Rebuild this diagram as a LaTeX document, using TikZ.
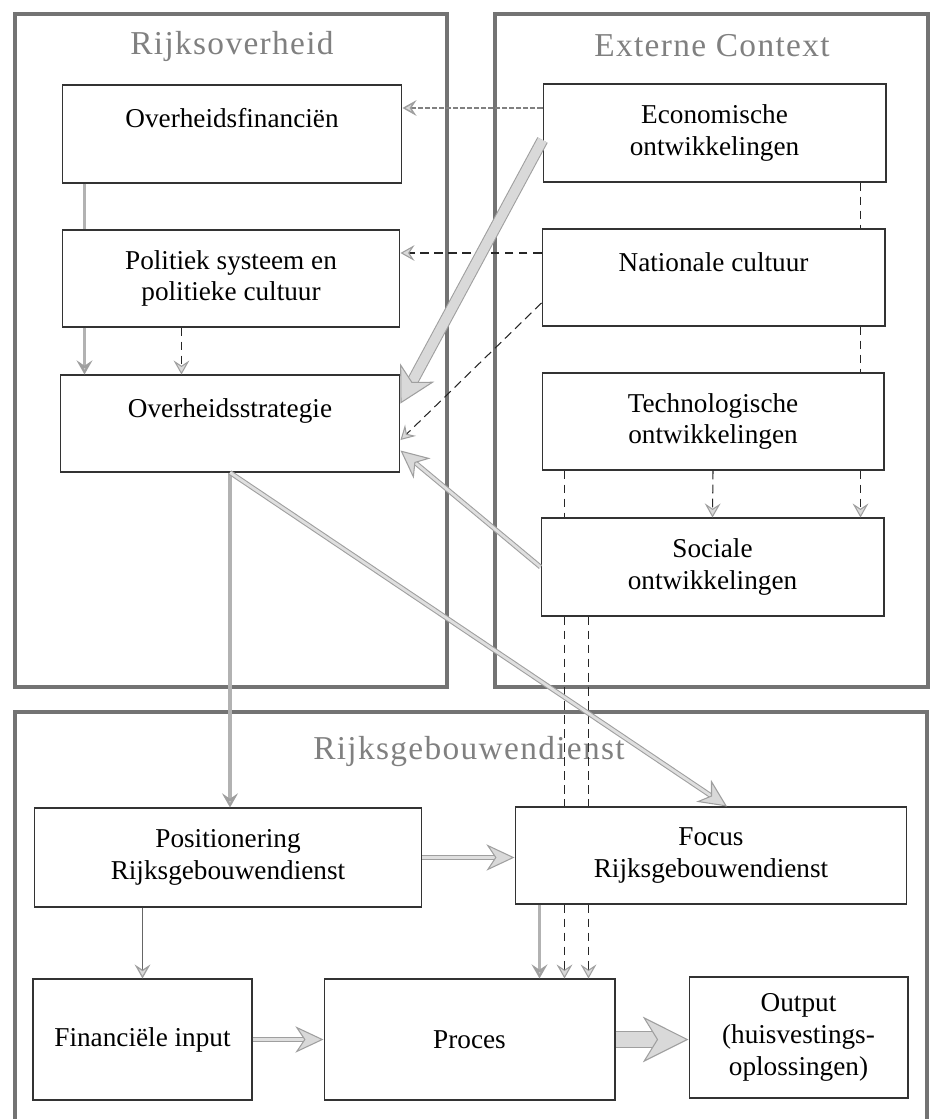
\documentclass[tikz,border=0pt]{standalone}
\usepackage{fontspec}
\setmainfont{Liberation Serif}
\usetikzlibrary{arrows.meta}

\begin{document}
\begin{tikzpicture}[x=0.02cm, y=-0.02cm]
    % Setup the styles for the frames, boxes and arrows
        \tikzset{frame style/.style={draw=black!55, line width=2.6pt},
                 title style/.style={text=black!50,
                                     font=\fontsize{19}{22}\selectfont\addfontfeature{LetterSpace=4}},
                 box style/.style={draw=black!80, line width=0.6pt, fill=white,
                                   align=center, font=\fontsize{15.5}{18}\selectfont},
                 thin arrow/.style={draw=black!60, line width=0.7pt,
                                    -{Stealth[length=8pt, width=9pt, inset=3pt, color=gray!75, fill=gray!30]}},
                 grey arrow/.style={thin arrow, draw=gray!60, line width=2pt},
                 grey line/.style={draw=gray!60, line width=2pt},
                 dashed link/.style={draw=black!85, line width=0.6pt, dash pattern=on 5pt off 3pt},
                 dashed arrow/.style={thin arrow, dashed link},
                 grey dashed arrow/.style={thin arrow, draw=black!50, line width=0.8pt, dash pattern=on 3pt off 1pt},
                 band arrow/.style={draw=gray!75, double=gray!25, double distance=1.6pt, line width=0.6pt,
                                    -{Stealth[length=16pt, width=15pt, inset=5pt, fill=gray!30]}},
                 wide arrow/.style={draw=gray!75, double=gray!30, double distance=5.5pt, line width=0.6pt,
                                    -{Stealth[length=20pt, width=22pt, inset=6pt, fill=gray!30]}},
                 wider arrow/.style={wide arrow, double distance=8.5pt,
                                     -{Stealth[length=26pt, width=26pt, inset=8pt, fill=gray!30]}}}
        \useasboundingbox (0,0) rectangle (933,1119);
        % Draw the frames and their titles
        \node[frame style, minimum width=8.64cm, minimum height=13.46cm] at (231,350.5) (ro) {};
        \node[frame style, minimum width=8.66cm, minimum height=13.46cm] at (711.5,350.5) (ec) {};
        \node[frame style, minimum width=18.24cm, minimum height=8.46cm] at (471,923.5) (rgd) {};
        \node[title style] at (232,46) (rotitle) {Rijksoverheid};
        \node[title style] at (712,46) (ectitle) {Externe Context};
        \node[title style] at (469,752) (rgdtitle) {Rijksgebouwendienst};
        % Draw the boxes
        \node[box style, minimum width=6.8cm, minimum height=1.96cm] at (232,134) (fin) {Overheidsfinanciën\\\mbox{}};
        \node[box style, minimum width=6.76cm, minimum height=1.94cm] at (231,278.5) (pol) {Politiek systeem en\\politieke cultuur};
        \node[box style, minimum width=6.8cm, minimum height=1.94cm] at (230,423.5) (strat) {Overheidsstrategie\\\mbox{}};
        \node[box style, minimum width=6.86cm, minimum height=1.96cm] at (714.5,133) (eco) {Economische\\ontwikkelingen};
        \node[box style, minimum width=6.86cm, minimum height=1.94cm] at (713.5,277.5) (nat) {Nationale cultuur\\\mbox{}};
        \node[box style, minimum width=6.84cm, minimum height=1.94cm] at (713,421.5) (tech) {Technologische\\ontwikkelingen};
        \node[box style, minimum width=6.86cm, minimum height=1.96cm] at (712.5,567) (soc) {Sociale\\ontwikkelingen};
        \node[box style, minimum width=7.76cm, minimum height=1.98cm] at (228,857.5) (pos) {Positionering\\Rijksgebouwendienst};
        \node[box style, minimum width=7.84cm, minimum height=1.94cm] at (711,855.5) (focus) {Focus\\Rijksgebouwendienst};
        \node[box style, minimum width=4.38cm, minimum height=2.42cm] at (142.5,1039.5) (finin) {Financiële input};
        \node[box style, minimum width=5.82cm, minimum height=2.42cm] at (469.5,1039.5) (proces) {Proces};
        \node[box style, minimum width=4.38cm, minimum height=2.42cm] at (798.5,1037.5) (output) {Output\\(huisvestings-\\oplossingen)};
        % Connect the boxes with arrows
        \draw
            % external context to the government
            ([yshift=0.5cm]eco.west) edge[grey dashed arrow] ([yshift=0.5cm]eco.west -| fin.east)
            ([yshift=0.49cm]nat.west) edge[dashed arrow] ([yshift=0.49cm]nat.west -| pol.east)
            ([yshift=-0.51cm]nat.west) edge[dashed arrow] ([yshift=-0.33cm]strat.east)
            ([yshift=-0.14cm]eco.west) edge[wide arrow] ([yshift=0.4cm]strat.east)
            (soc.west) edge[band arrow] ([yshift=-0.54cm]strat.east)
            % inside the government
            ([xshift=0.46cm]fin.south west) edge[grey line] ([xshift=0.46cm]fin.south west |- pol.north)
            ([xshift=0.46cm]fin.south west |- pol.south) edge[grey arrow] ([xshift=0.46cm]fin.south west |- strat.north)
            ([xshift=2.4cm]pol.south west) edge[dashed arrow] ([xshift=2.4cm]pol.south west |- strat.north)
            % inside the external context
            ([xshift=-0.52cm]eco.south east) edge[dashed link] ([xshift=-0.52cm]eco.south east |- nat.north)
            ([xshift=-0.52cm]eco.south east |- nat.south) edge[dashed link] ([xshift=-0.52cm]eco.south east |- tech.north)
            ([xshift=-0.52cm]eco.south east |- tech.south) edge[dashed arrow] ([xshift=-0.52cm]eco.south east |- soc.north)
            (tech.south) edge[dashed arrow] (soc.north)
            ([xshift=0.46cm]tech.south west) edge[dashed link] ([xshift=0.46cm]tech.south west |- soc.north)
            ([xshift=0.46cm]tech.south west |- soc.south) edge[dashed link] ([xshift=0.46cm]tech.south west |- focus.north)
            ([xshift=0.96cm]soc.south west) edge[dashed link] ([xshift=0.96cm]soc.south west |- focus.north)
            % down to the Rijksgebouwendienst
            (strat.south) edge[grey arrow] (strat.south |- pos.north)
            (strat.south) edge[band arrow] ([xshift=0.32cm]focus.north)
            % inside the Rijksgebouwendienst
            (pos.east) edge[band arrow] (pos.east -| focus.west)
            (pos.south -| finin.north) edge[thin arrow] (finin.north)
            ([xshift=0.5cm]focus.south west) edge[grey arrow] ([xshift=0.5cm]focus.south west |- proces.north)
            ([xshift=0.46cm]tech.south west |- focus.south) edge[dashed arrow] ([xshift=0.46cm]tech.south west |- proces.north)
            ([xshift=0.96cm]soc.south west |- focus.south) edge[dashed arrow] ([xshift=0.96cm]soc.south west |- proces.north)
            (finin.east) edge[band arrow] (finin.east -| proces.west)
            (proces.east) edge[wider arrow] (proces.east -| output.west);
\end{tikzpicture}
\end{document}
